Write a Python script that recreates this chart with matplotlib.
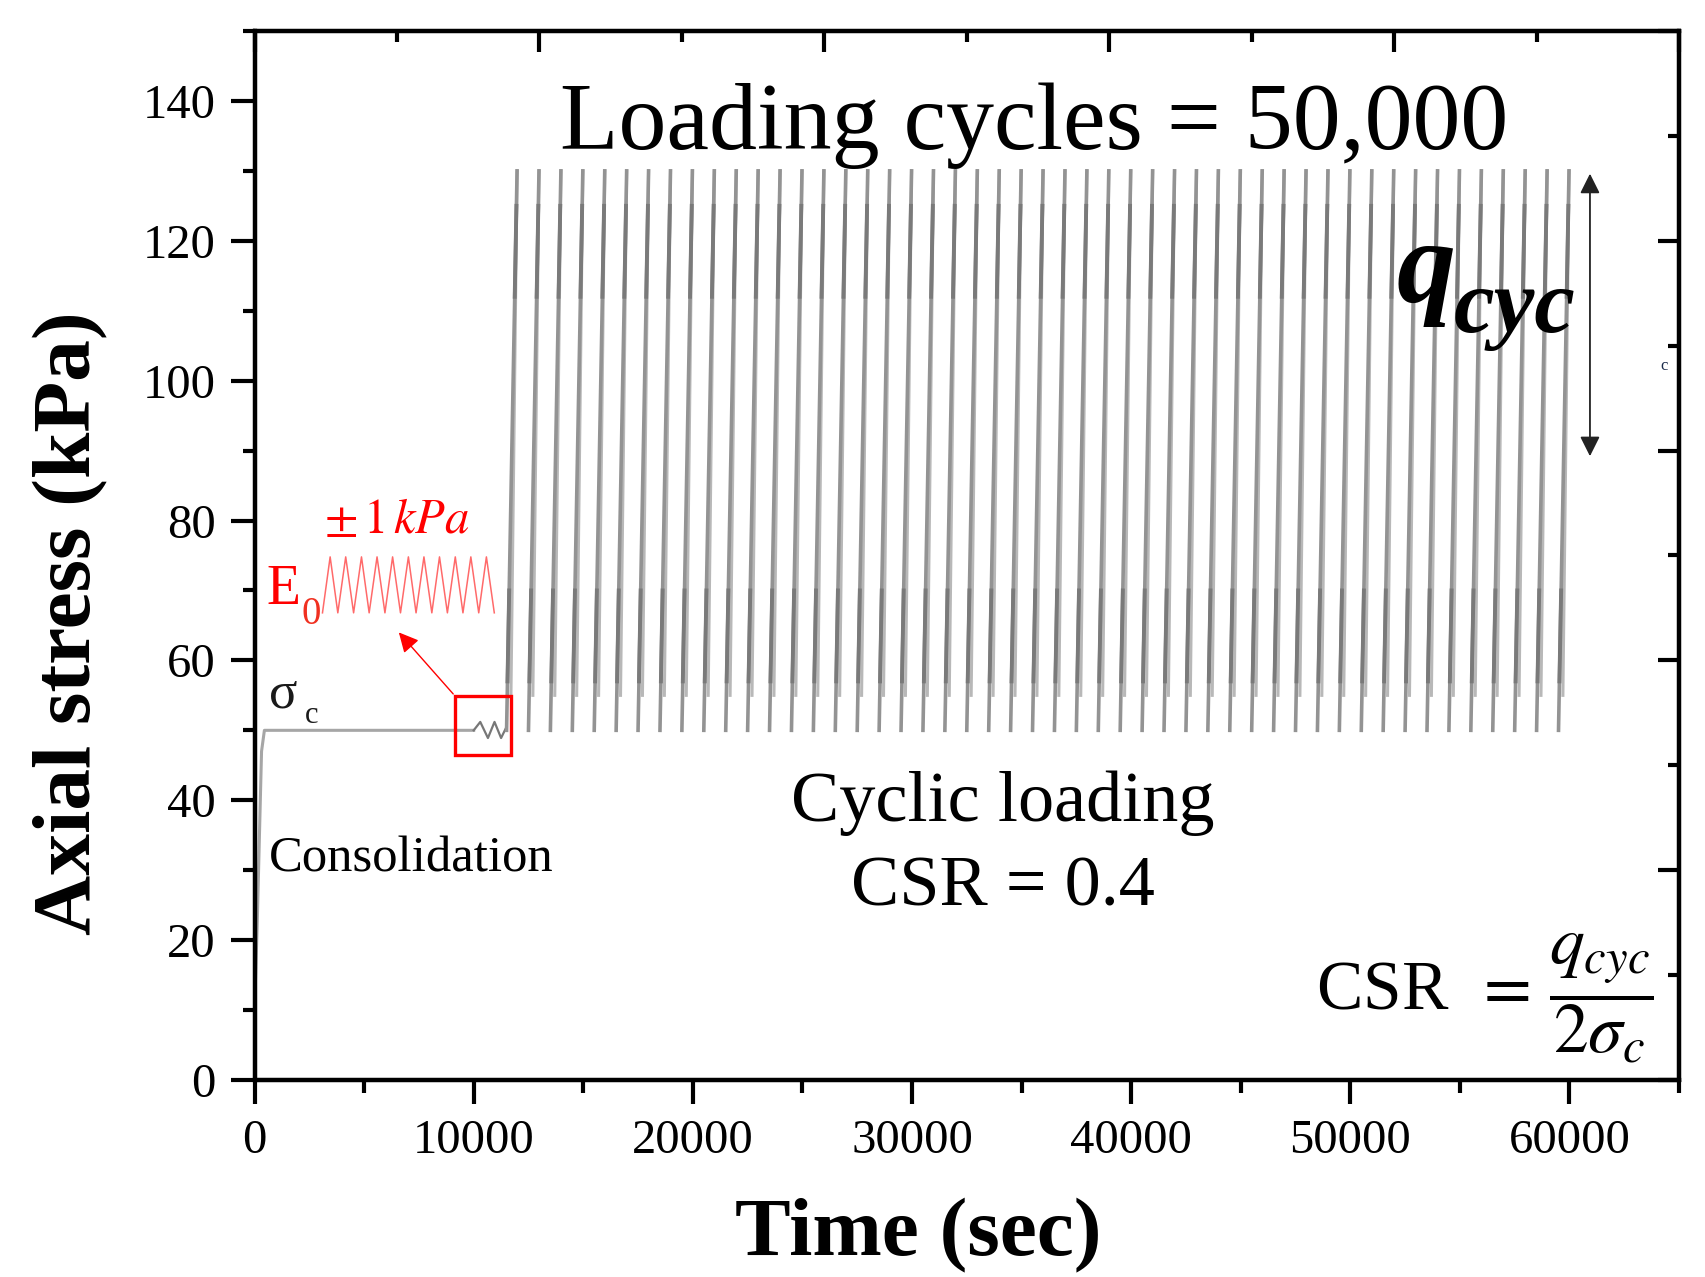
import numpy as np
import matplotlib
matplotlib.use("Agg")
import matplotlib.pyplot as plt
from matplotlib.patches import Rectangle
from matplotlib.ticker import MultipleLocator

plt.rcParams['font.family'] = ['Liberation Serif', 'DejaVu Serif']
plt.rcParams['mathtext.fontset'] = 'stix'

# Consolidation stage (time in s, stress in kPa)
cons_t = [0, 120, 320, 450, 10000, 10300, 10650, 10950, 11250, 11500]
cons_y = [10, 22, 47, 50, 50, 51.2, 48.9, 51.2, 48.9, 50.5]

# Cyclic loading stripes (start time of each visible stripe)
loading_start = [11500, 12500, 13500, 14500, 15500, 16500, 17500, 18500, 19500,
                 20500, 21500, 22500, 23500, 24500, 25500, 26500, 27500, 28500,
                 29500, 30500, 31500, 32500, 33500, 34500, 35500, 36500, 37500,
                 38500, 39500, 40500, 41500, 42500, 43500, 44500, 45500, 46500,
                 47500, 48500, 49500, 50500, 51500, 52500, 53500, 54500, 55500,
                 56500, 57500, 58500, 59500]
q_min = 50
q_max = 130
q_end = 55
rise_dt = 480
fall_dt = 200
dark_bands = [(112, 125), (57, 70)]

# Red inset zigzag (±1 kPa sketch)
ins_t = [3100, 3450, 3800, 4160, 4520, 4880, 5230, 5590, 5950, 6300, 6660, 7020,
         7370, 7730, 8090, 8440, 8800, 9160, 9510, 9870, 10230, 10580, 10940]
ins_y = [66.8, 74.8, 66.8, 74.8, 66.8, 74.8, 66.8, 74.8, 66.8, 74.8, 66.8, 74.8,
         66.8, 74.8, 66.8, 74.8, 66.8, 74.8, 66.8, 74.8, 66.8, 74.8, 66.8]

fig = plt.figure(figsize=(17.06, 12.77), dpi=100)
ax = fig.add_axes([0.1492, 0.1543, 0.8350, 0.8214])

# consolidation
ax.plot(cons_t[:5], cons_y[:5], color='#a6a6a6', lw=2.2)
ax.plot(cons_t[4:], cons_y[4:], color='#777777', lw=1.6)

# cyclic stripes: rising leg, falling leg, darker bands on the rising leg
ux, uy, dx, dy, bx, by = [], [], [], [], [], []
for s in loading_start:
    ux += [s, s + rise_dt, np.nan]
    uy += [q_min, q_max, np.nan]
    dx += [s + rise_dt, s + fall_dt, np.nan]
    dy += [q_max, q_end, np.nan]
    for lo, hi in dark_bands:
        bx += list(np.interp([lo, hi], [q_min, q_max], [s, s + rise_dt])) + [np.nan]
        by += [lo, hi, np.nan]
ax.plot(dx, dy, color='#b8b8b8', lw=2.2)
ax.plot(ux, uy, color='#939393', lw=2.6)
ax.plot(bx, by, color='#7a7a7a', lw=2.8)

# red box, arrow and inset
ax.add_patch(Rectangle((9150, 46.5), 2560, 8.4, fill=False, ec='red', lw=2.4, zorder=5))
ax.annotate('', xy=(6500, 64.3), xytext=(9150, 54.9),
            arrowprops=dict(arrowstyle='-|>', color='red', lw=1.0, mutation_scale=30))
ax.plot(ins_t, ins_y, color='#ff6a6a', lw=1.1)
ax.text(3185, 78.2, r'$\pm\,1\,kPa$', color='red', fontsize=35, va='baseline')
ax.text(548, 68.1, 'E', color='red', fontsize=40, va='baseline')
ax.text(2150, 65.2, '0', color='#f03020', fontsize=28, va='baseline')

# labels inside
ax.text(645, 53.3, 'σ', fontsize=38, va='baseline', color='#1a1a1a')
ax.text(2285, 51.0, 'c', fontsize=22, va='baseline', color='#1a1a1a')
ax.text(644, 29.8, 'Consolidation', fontsize=36.5, va='baseline')
ax.text(35580, 133.1, 'Loading cycles = 50,000', fontsize=69, ha='center', va='baseline')
ax.text(34150, 37.0, 'Cyclic loading', fontsize=52, ha='center', va='baseline')
ax.text(34150, 25.0, 'CSR = 0.4', fontsize=52, ha='center', va='baseline')
ax.text(63840, 10.0, r'CSR $\,=\,\dfrac{q_{cyc}}{2\sigma_c}$', fontsize=50, ha='right', va='baseline')

# q_cyc with double arrow
ax.text(52100, 111.2, 'q', fontsize=85, fontweight='bold', fontstyle='italic', va='baseline')
ax.text(54720, 107.0, 'cyc', fontsize=66, fontweight='bold', fontstyle='italic', va='baseline')
ax.annotate('', xy=(60935, 130.0), xytext=(60935, 88.8),
            arrowprops=dict(arrowstyle='<|-|>', color='#222222', lw=1.3, mutation_scale=30))
ax.text(64160, 101.5, 'c', fontsize=12, color='#1a2a4a', va='baseline')

ax.set_xlim(0, 65000)
ax.set_ylim(0, 150)
ax.xaxis.set_minor_locator(MultipleLocator(5000))
ax.yaxis.set_minor_locator(MultipleLocator(10))
ax.set_xticks(range(0, 60001, 10000))
ax.set_yticks(range(0, 141, 20))
ax.tick_params(which='both', direction='out', width=3, labelsize=35, top=False, right=False)
ax.tick_params(which='major', length=17, pad=11)
ax.tick_params(which='minor', length=9)
for sp in ax.spines.values():
    sp.set_linewidth(3)

ax.set_xlabel('Time (sec)', fontsize=60, fontweight='bold')
ax.set_ylabel('Axial stress (kPa)', fontsize=60, fontweight='bold')
ax.xaxis.set_label_coords(0.4658, -0.113)
ax.yaxis.set_label_coords(-0.1024, 0.4357)

# top and right inward ticks
axr = ax.twinx()
axr.set_ylim(0, 10)
axr.yaxis.set_major_locator(MultipleLocator(2))
axr.yaxis.set_minor_locator(MultipleLocator(1))
axr.tick_params(which='both', direction='in', width=3, labelright=False)
axr.tick_params(which='major', length=15)
axr.tick_params(which='minor', length=8)
axt = ax.twiny()
axt.set_xlim(0, 10)
axt.xaxis.set_major_locator(MultipleLocator(2))
axt.xaxis.set_minor_locator(MultipleLocator(1))
axt.tick_params(which='both', direction='in', width=3, labeltop=False)
axt.tick_params(which='major', length=15)
axt.tick_params(which='minor', length=8)
for a in (axr, axt):
    for sp in a.spines.values():
        sp.set_linewidth(3)

fig.savefig('out.png', dpi=100)
